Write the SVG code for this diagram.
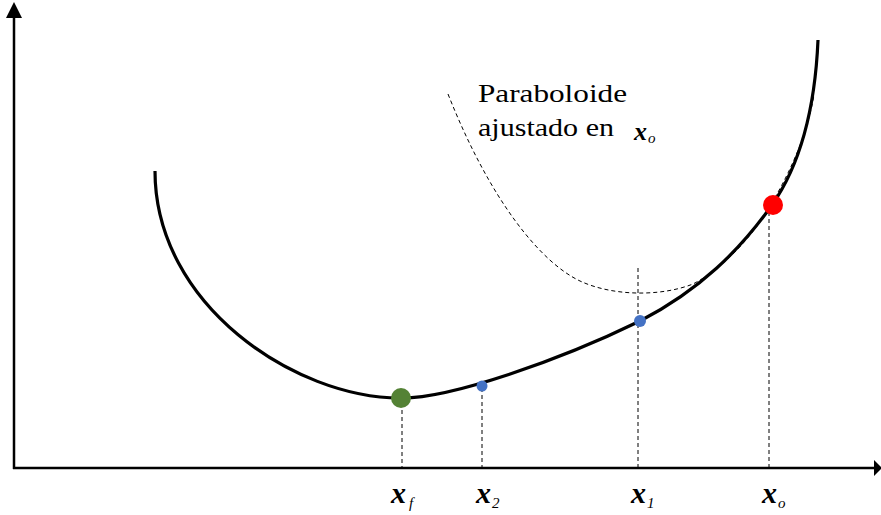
<svg xmlns="http://www.w3.org/2000/svg" width="881" height="515" viewBox="0 0 881 515">
<style>
.dash{fill:none;stroke:#000;stroke-width:1;stroke-dasharray:4 3}
.axis{fill:none;stroke:#000;stroke-width:2.5}
.lbl{font-family:"Liberation Serif","DejaVu Serif",serif;font-weight:bold;font-style:italic;font-size:30px;fill:#000}
.sub{font-family:"Liberation Serif","DejaVu Serif",serif;font-weight:normal;font-style:italic;font-size:15px;fill:#000}
.txt{font-family:"Liberation Serif","DejaVu Serif",serif;font-size:26px;fill:#000}
</style>
<rect width="881" height="515" fill="#fff"/>
<g id="axes">
<line class="axis" x1="14" y1="469" x2="14" y2="14"/>
<polygon points="14,2 6,18 22,18" fill="#000"/>
<line class="axis" x1="13" y1="468" x2="876" y2="468"/>
<polygon points="882,468 874,460 874,476" fill="#000"/>
</g>
<g id="connectors">
<path class="dash" d="M448,94 C490,200 540,262 580,281 C612,296 660,297 693,284 C728,266 758,228 770,206 C793,168 808,130 814,95"/>
<line class="dash" x1="402" y1="410" x2="402" y2="468"/>
<line class="dash" x1="482" y1="388" x2="482" y2="468"/>
<line class="dash" x1="638" y1="268" x2="638" y2="468"/>
<line class="dash" x1="769" y1="205" x2="769" y2="468"/>
</g>
<g id="curve">
<path d="M155,171 C155,305 295,398 400,398 C450,399 560,360 640,321 C700,290 740,250 772,205 C800,165 815,110 818,40" fill="none" stroke="#000" stroke-width="3.2"/>
</g>
<g id="xf"><circle cx="401" cy="398" r="10" fill="#548235"/><text class="lbl" x="391" y="503">x<tspan class="sub" dx="3" dy="5">f</tspan></text></g>
<g id="x2"><circle cx="482" cy="386" r="5.5" fill="#4472C4"/><text class="lbl" x="476" y="503">x<tspan class="sub" dx="1" dy="5">2</tspan></text></g>
<g id="x1"><circle cx="640" cy="321" r="6" fill="#4472C4"/><text class="lbl" x="631" y="503">x<tspan class="sub" dx="1" dy="5">1</tspan></text></g>
<g id="xo"><circle cx="773" cy="205" r="10" fill="#FF0000"/><text class="lbl" x="762" y="503">x<tspan class="sub" dx="1" dy="5">o</tspan></text></g>
<g id="label">
<text class="txt" x="478" y="102" textLength="149" lengthAdjust="spacingAndGlyphs">Paraboloide</text>
<text class="txt" x="478" y="136" textLength="136" lengthAdjust="spacingAndGlyphs">ajustado en</text>
<text class="lbl" x="634" y="140" style="font-size:26px">x<tspan class="sub" dx="1" dy="3">o</tspan></text>
</g>
</svg>
